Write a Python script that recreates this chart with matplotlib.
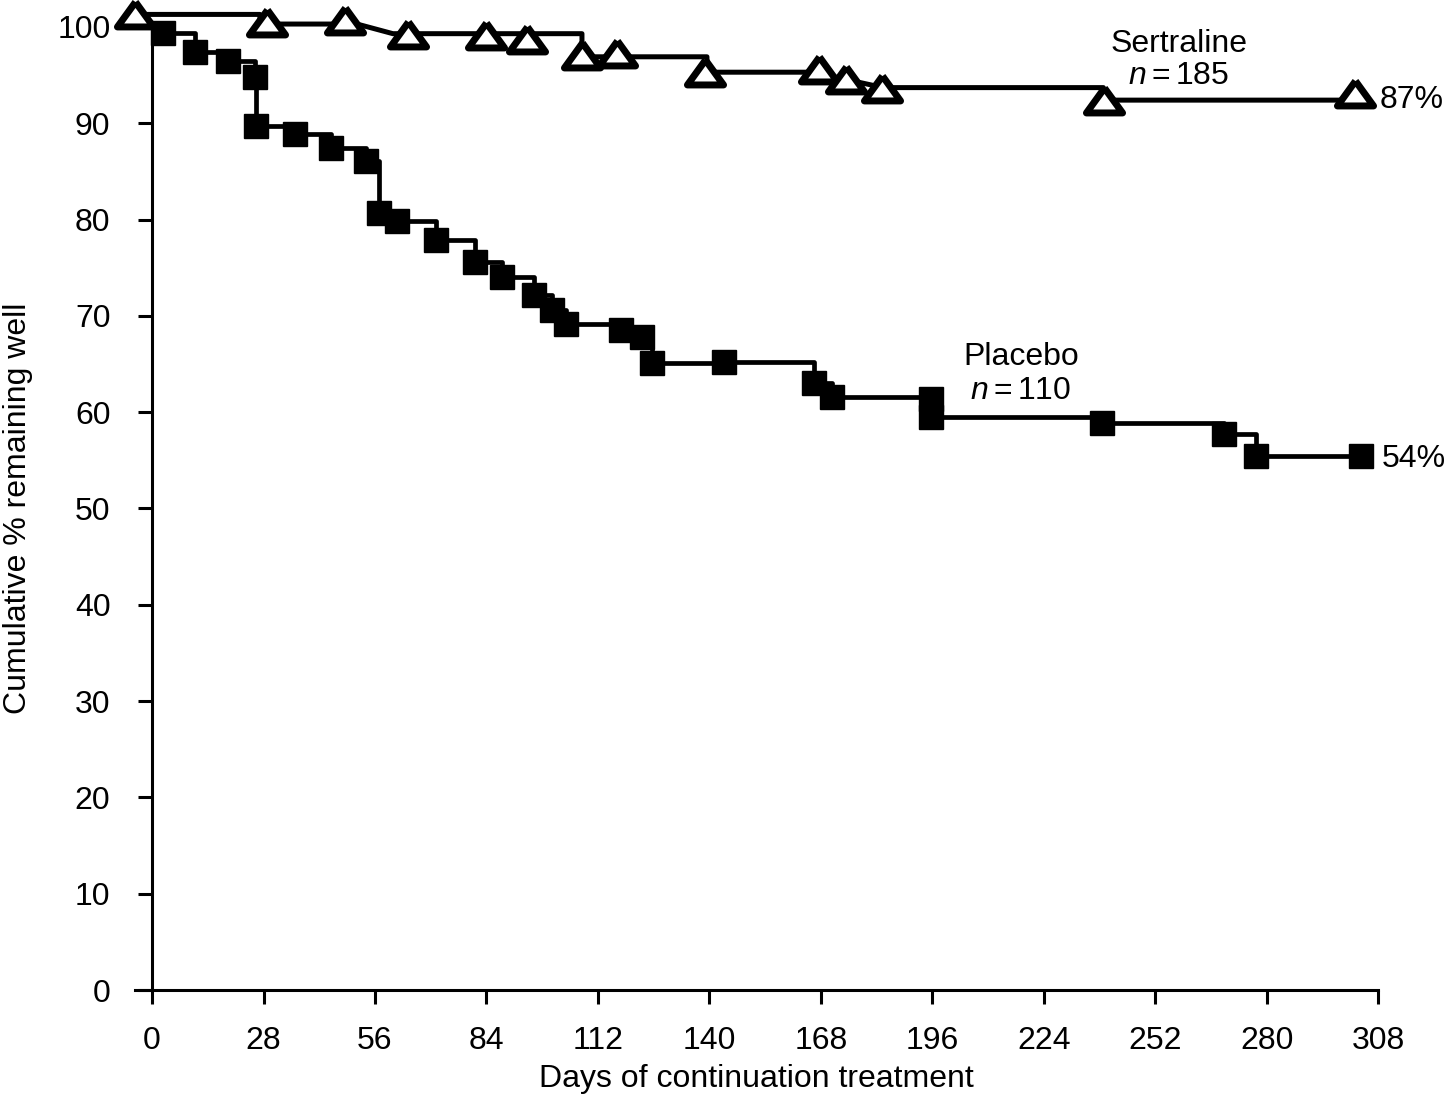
import matplotlib
matplotlib.use("Agg")
import matplotlib.pyplot as plt

plt.rcParams['font.family'] = ['Liberation Sans', 'DejaVu Sans']
plt.rcParams['mathtext.fontset'] = 'custom'
plt.rcParams['mathtext.rm'] = 'Liberation Sans'
plt.rcParams['mathtext.it'] = 'Liberation Sans:italic'

# sertraline curve (days, cumulative %)
sert_line_days = [-4.3, 27.1, 27.1, 51.5, 60.5, 108.0, 108.0, 139.4, 139.4, 166.0, 183.7, 239.0, 239.0, 303.5]
sert_line_vals = [101.3, 101.3, 100.3, 100.3, 99.3, 99.3, 96.9, 96.9, 95.3, 95.3, 93.7, 93.7, 92.4, 92.4]
sert_mark_days = [-4.3, 28.9, 48.4, 64.2, 83.8, 94.1, 107.9, 116.7, 139.0, 167.6, 174.4, 183.4, 239.1, 302.1]
sert_mark_vals = [101.35, 100.5, 100.7, 99.3, 99.2, 98.7, 97.1, 97.3, 95.3, 95.6, 94.6, 93.7, 92.4, 93.1]

# placebo curve
plac_days = [2.8, 10.8, 19.1, 25.8, 26.1, 35.9, 44.9, 53.7, 57.0, 61.5, 71.3, 81.1, 87.8,
             95.9, 100.4, 104.1, 117.7, 123.0, 125.5, 143.8, 166.4, 170.9, 195.7, 195.7,
             238.6, 269.3, 277.3, 303.6]
plac_vals = [99.4, 97.4, 96.5, 94.8, 89.7, 88.9, 87.4, 86.1, 80.7, 79.9, 77.9, 75.6, 74.0,
             72.2, 70.6, 69.2, 68.5, 67.8, 65.1, 65.2, 63.0, 61.6, 61.4, 59.5,
             58.9, 57.7, 55.5, 55.5]

x_ticks = [0, 28, 56, 84, 112, 140, 168, 196, 224, 252, 280, 308]
y_ticks = [0, 10, 20, 30, 40, 50, 60, 70, 80, 90, 100]

fig = plt.figure(figsize=(14.48, 10.96), dpi=100)
ax = fig.add_axes([0.0932, 0.0967, 0.8585, 0.8963])

tri = [(0, 1), (-1.45, -1), (1.45, -1), (0, 1)]
fs = 23

ax.plot([0] + plac_days, [100] + plac_vals, color='black', lw=3.4,
        drawstyle='steps-post', clip_on=False, zorder=2)
ax.plot(plac_days, plac_vals, ls='none', marker='s', ms=17.5,
        color='black', clip_on=False, zorder=3)

ax.plot(sert_line_days, sert_line_vals, color='black', lw=3.6, clip_on=False, zorder=2)
ax.plot(sert_mark_days, sert_mark_vals, ls='none', marker=tri, ms=26,
        mfc='white', mec='black', mew=5, clip_on=False, zorder=4)

ax.set_xlim(-4.3, 308)
ax.set_ylim(0, 102)
ax.spines['top'].set_visible(False)
ax.spines['right'].set_visible(False)
ax.spines['left'].set_position(('data', 0))
ax.spines['left'].set_bounds(0, 100)
for s in ('left', 'bottom'):
    ax.spines[s].set_linewidth(2.2)

ax.set_xticks(x_ticks)
ax.set_yticks(y_ticks)
ax.tick_params(axis='both', direction='out', length=10, width=2.2, labelsize=fs)
ax.tick_params(axis='y', pad=20)
ax.tick_params(axis='x', pad=16)

ax.set_xlabel('Days of continuation treatment', fontsize=fs, labelpad=6)
ax.set_ylabel('Cumulative % remaining well', fontsize=fs)
ax.yaxis.set_label_coords(-0.082, 0.49)

ax.text(258, 98.2, 'Sertraline', fontsize=fs, ha='center', va='center')
ax.text(258, 94.9, r'$n = 185$', fontsize=fs, ha='center', va='center')
ax.text(308.5, 92.4, '87%', fontsize=fs, ha='left', va='center')
ax.text(218.3, 65.7, 'Placebo', fontsize=fs, ha='center', va='center')
ax.text(218.3, 62.2, r'$n = 110$', fontsize=fs, ha='center', va='center')
ax.text(309.0, 55.1, '54%', fontsize=fs, ha='left', va='center')

fig.savefig('out.png', dpi=100)
